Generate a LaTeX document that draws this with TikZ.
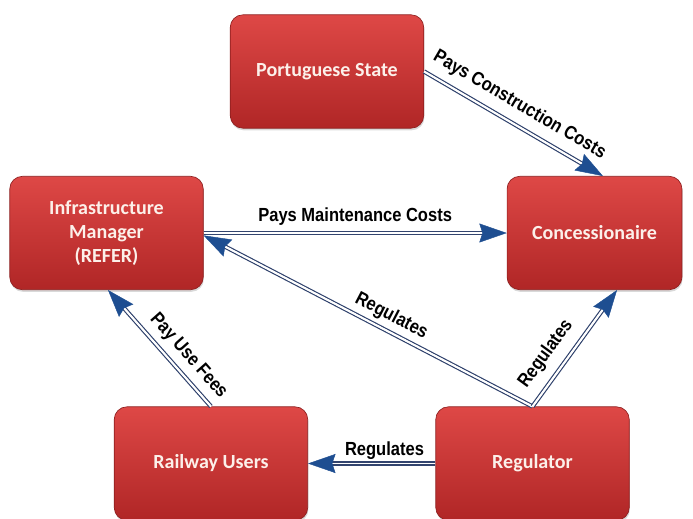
\documentclass[tikz,border=0pt]{standalone}
\usepackage{fontspec}
\setmainfont{Carlito}
\newfontfamily\labelfont[FakeStretch=0.87]{Liberation Sans}
\usetikzlibrary{arrows.meta,shadows}
\definecolor{boxtop}{RGB}{222,72,70}
\definecolor{boxbot}{RGB}{176,38,38}
\definecolor{boxedge}{RGB}{140,30,30}
\definecolor{boxtext}{RGB}{252,240,234}
\definecolor{linkblue}{RGB}{50,68,110}
\definecolor{tipblue}{RGB}{30,78,145}

\begin{document}
\begin{tikzpicture}[
  actor/.style={draw=boxedge, line width=0.6pt, rounded corners=12pt, top color=boxtop, bottom color=boxbot,
    minimum width=6.45cm, minimum height=3.78cm, align=center, text=boxtext,
    font=\fontsize{19}{23}\selectfont\bfseries,
    drop shadow={shadow xshift=0.6pt, shadow yshift=-2pt, opacity=0.3}},
  arr/.style={draw=linkblue, line width=1.2pt, double=white, double distance=1.8pt, shorten >=21pt,
    postaction={draw=white, line width=0.8pt, double distance=0pt, shorten >=0pt,
      -{Stealth[length=26pt,width=18pt,inset=3pt,color=tipblue,line width=0.4pt]}}},
  lbl/.style={font=\labelfont\fontsize{18}{20}\selectfont\bfseries, inner sep=3pt}
]
\useasboundingbox (0,0) rectangle (23.1,-17.267);
% actors
\node[actor] (state) at (10.9,-2.383) {Portuguese State};
\node[actor, minimum width=5.83cm] (conc) at (19.817,-7.767) {Concessionaire};
\node[actor] (infra) at (3.55,-7.767) {Infrastructure\\ Manager\\ (REFER)};
\node[actor] (users) at (7.033,-15.45) {Railway Users};
\node[actor] (reg) at (17.75,-15.45) {Regulator};

% payments
\draw[arr] (state.east) -- ([xshift=0.28cm]conc.north)
  node[lbl, pos=0.48, sloped, above=6pt] {Pays Construction Costs};
\draw[arr] (infra.east) -- (conc.west)
  node[lbl, midway, above=3.5pt] {Pays Maintenance Costs};
\draw[arr] (users.north) -- ([xshift=0.05cm]infra.south)
  node[lbl, pos=0.34, sloped, above=4pt] {Pay Use Fees};
% regulation
\draw[arr] (reg.north) -- ([yshift=-0.08cm]infra.east)
  node[lbl, pos=0.45, sloped, above=2pt] {Regulates};
\draw[arr] (reg.north) -- ([xshift=0.75cm]conc.south)
  node[lbl, pos=0.35, sloped, above=7pt] {Regulates};
\draw[arr] (reg.west) -- (users.east)
  node[lbl, pos=0.4, above] {Regulates};
\end{tikzpicture}
\end{document}
